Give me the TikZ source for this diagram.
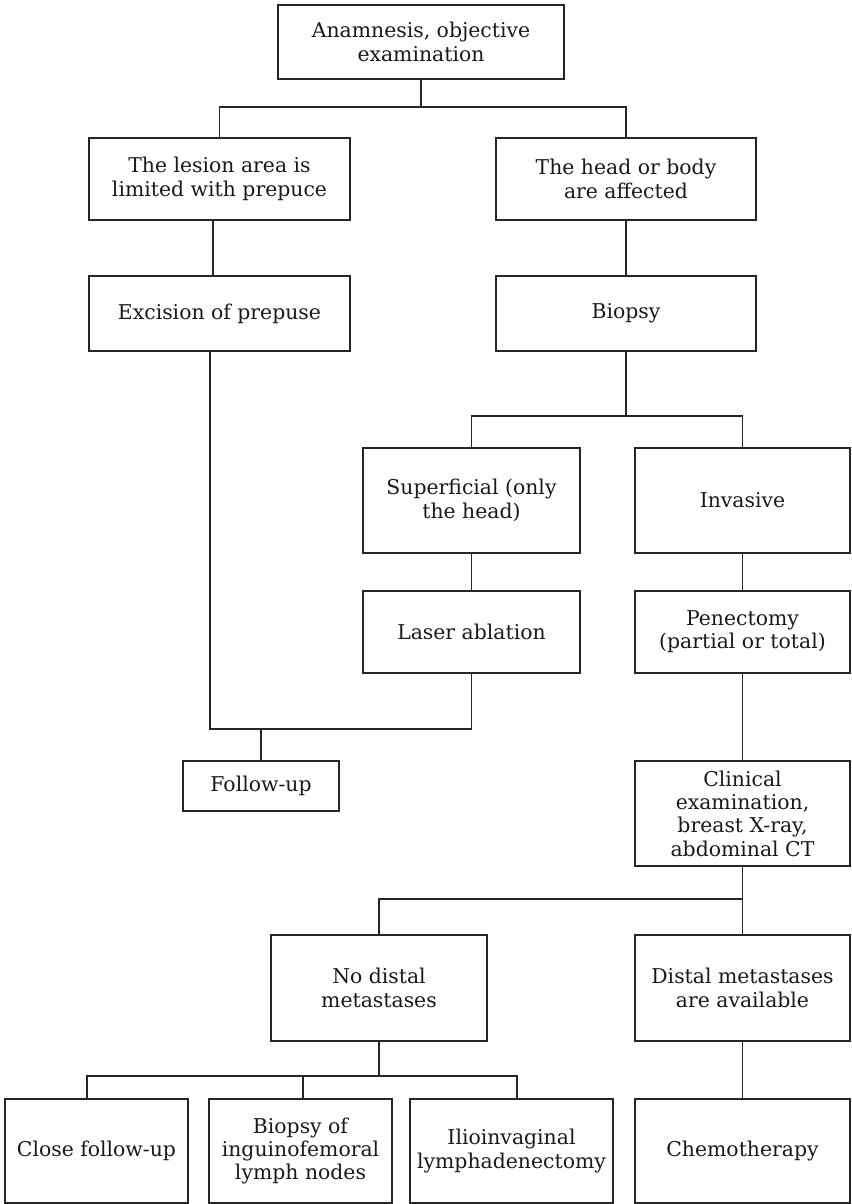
\documentclass[tikz,border=0pt]{standalone}
\usepackage{fontspec}
\setmainfont{DejaVu Serif}

\begin{document}
\begin{tikzpicture}[x=0.025cm, y=-0.025cm, line width=0.9pt, draw=black!85,
    box/.style={draw, rectangle, align=center, inner sep=2pt, text=black!90,
      font=\fontsize{14.5}{16.6}\selectfont},
    wide/.style={box, minimum width=6.5cm},
    colr/.style={box, minimum width=5.375cm, minimum height=2.625cm}]
  \useasboundingbox (0,0) rectangle (851,1204);

  % first level
  \node[box, minimum width=7.15cm, minimum height=1.85cm] (anam) at (421,42) {Anamnesis, objective\\examination};

  \node[wide, minimum width=6.525cm, minimum height=2.05cm] (lesion) at (219.5,179) {The lesion area is\\limited with prepuce};
  \node[wide, minimum height=2.05cm] (head) at (626,179) {The head or body\\are affected};

  \coordinate (j1) at (421,107);
  \draw (anam.south) -- (j1);
  \draw (lesion.north) |- (j1) -| (head.north);

  % second level
  \node[wide, minimum width=6.525cm, minimum height=1.875cm] (excision) at (219.5,313.5) {Excision of prepuse};
  \node[wide, minimum height=1.875cm] (biopsy) at (626,313.5) {Biopsy};

  \draw ([xshift=-0.1625cm]lesion.south) -- ([xshift=-0.1625cm]excision.north);
  \draw (head.south) -- (biopsy.north);

  % biopsy result
  \node[box, minimum width=5.425cm, minimum height=2.625cm] (superficial) at (471.5,500.5) {Superficial (only\\the head)};
  \node[colr] (invasive) at (742.5,500.5) {Invasive};

  \coordinate (j2) at (626,416);
  \draw (biopsy.south) -- (j2);
  \draw (superficial.north) |- (j2) -| (invasive.north);

  % treatment
  \node[box, minimum width=5.425cm, minimum height=2.05cm] (laser) at (471.5,632) {Laser ablation};
  \node[colr, minimum height=2.05cm] (penectomy) at (742.5,632) {Penectomy\\(partial or total)};

  \draw (superficial.south) -- (laser.north);
  \draw (invasive.south) -- (penectomy.north);

  % follow-up after excision or ablation
  \node[box, minimum width=3.9cm, minimum height=1.25cm] (followup) at (261,786) {Follow-up};

  \coordinate (j3) at (261,729);
  \draw ([xshift=-0.2375cm]excision.south) |- (j3) -| (laser.south);
  \draw (j3) -- (followup.north);

  % staging
  \node[colr] (clinical) at (742.5,813.5) {Clinical\\examination,\\breast X-ray,\\abdominal CT};
  \draw (penectomy.south) -- (clinical.north);

  \node[box, minimum width=5.4cm, minimum height=2.65cm] (nodistal) at (379,988) {No distal\\metastases};
  \node[colr, minimum height=2.65cm] (distal) at (742.5,988) {Distal metastases\\are available};

  \coordinate (j4) at (742.5,899);
  \draw (clinical.south) -- (distal.north);
  \draw (nodistal.north) |- (j4);

  % last level
  \node[box, minimum width=4.575cm, minimum height=2.6cm] (close) at (96.5,1151) {Close follow-up};
  \node[box, minimum width=4.575cm, minimum height=2.6cm] (lymph) at (300.5,1151) {Biopsy of\\inguinofemoral\\lymph nodes};
  \node[box, minimum width=5.075cm, minimum height=2.6cm] (ilio) at (511.5,1151) {Ilioinvaginal\\lymphadenectomy};
  \node[colr, minimum height=2.6cm] (chemo) at (742.5,1151) {Chemotherapy};

  \coordinate (j5) at (379,1076);
  \draw (nodistal.south) -- (j5);
  \draw ([xshift=-0.2375cm]close.north) |- (j5) -| ([xshift=0.1375cm]ilio.north);
  \draw ([xshift=0.0625cm]lymph.north) -- ([xshift=0.0625cm]lymph.north |- j5);
  \draw (distal.south) -- (chemo.north);
\end{tikzpicture}
\end{document}
